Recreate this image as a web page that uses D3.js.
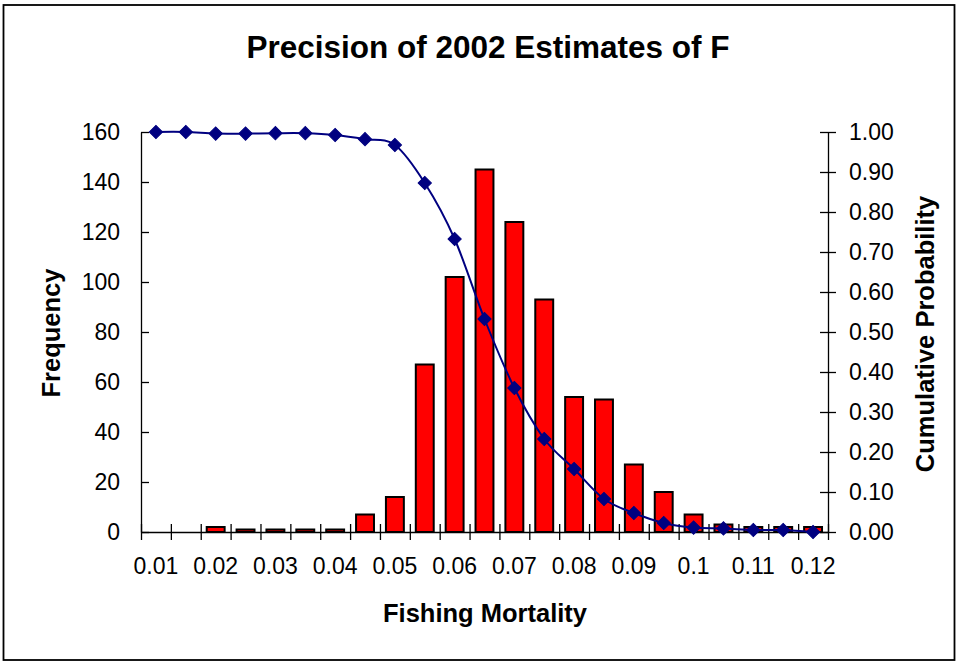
<!DOCTYPE html>
<html>
<head>
<meta charset="utf-8">
<script src="https://cdn.jsdelivr.net/npm/d3@7"></script>
<style>
  html, body { margin: 0; padding: 0; background: #fff; }
  svg { display: block; font-family: Arial, "Liberation Sans", sans-serif; }
</style>
</head>
<body>
<svg id="chart" width="958" height="662"></svg>
<script>
// ---- data ----
const categories = ["0.01","0.015","0.02","0.025","0.03","0.035","0.04","0.045","0.05","0.055","0.06","0.065",
                    "0.07","0.075","0.08","0.085","0.09","0.095","0.1","0.105","0.11","0.115","0.12"];
const frequency = [0, 0, 2, 1, 1, 1, 1, 7, 14, 67, 102, 145, 124, 93, 54, 53, 27, 16, 7, 3, 2, 2, 2];
const cumulativeProbability = [1.0, 1.0, 0.996, 0.996, 0.997, 0.997, 0.9925, 0.982, 0.9675, 0.8725, 0.7325, 0.5325,
                               0.36, 0.2325, 0.1575, 0.0825, 0.0475, 0.0225, 0.011, 0.009, 0.005, 0.005, 0.0];
const xTickLabels = ["0.01","0.02","0.03","0.04","0.05","0.06","0.07","0.08","0.09","0.1","0.11","0.12"];
const leftTicks = [0, 20, 40, 60, 80, 100, 120, 140, 160];
const rightTicks = [0, 0.1, 0.2, 0.3, 0.4, 0.5, 0.6, 0.7, 0.8, 0.9, 1.0];

const svg = d3.select("#chart");
const plot = { left: 141, right: 828, top: 132, bottom: 532 };

// outer border
svg.append("rect").attr("x", 3.5).attr("y", 5).attr("width", 951).attr("height", 655)
  .attr("fill", "#fff").attr("stroke", "#000").attr("stroke-width", 1.8);

// scales
const x = d3.scaleBand().domain(categories).range([plot.left, plot.right])
  .paddingInner(0.4).paddingOuter(0.2);
const xEdge = d3.scaleLinear().domain([0, categories.length]).range([plot.left, plot.right]);
const yL = d3.scaleLinear().domain([0, 160]).range([plot.bottom, plot.top]);
const yR = d3.scaleLinear().domain([0, 1]).range([plot.bottom, plot.top]);

const fontTick = "23px";

// bars
svg.append("g").selectAll("rect").data(categories.map((c, i) => ({ c, v: frequency[i] })).filter(d => d.v > 0))
  .join("rect")
  .attr("x", d => x(d.c))
  .attr("width", x.bandwidth())
  .attr("y", d => yL(d.v))
  .attr("height", d => yL(0) - yL(d.v))
  .attr("fill", "#ff0000")
  .attr("stroke", "#000")
  .attr("stroke-width", 2);

// left axis
const gL = svg.append("g").attr("transform", `translate(${plot.left},0)`)
  .call(d3.axisLeft(yL).tickValues(leftTicks).tickSize(8).tickPadding(13).tickSizeOuter(0));
gL.selectAll(".tick line").attr("x2", 8);
gL.selectAll("text").style("font-size", fontTick).attr("fill", "#000");

// right axis
const gR = svg.append("g").attr("transform", `translate(${plot.right},0)`)
  .call(d3.axisRight(yR).tickValues(rightTicks).tickFormat(d3.format(".2f")).tickSize(8).tickPadding(13).tickSizeOuter(0));
gR.selectAll(".tick line").attr("x1", -8);
gR.selectAll("text").style("font-size", fontTick).attr("fill", "#000");

// bottom axis: tick marks at category edges
const gB = svg.append("g").attr("transform", `translate(0,${plot.bottom})`)
  .call(d3.axisBottom(xEdge).tickValues(d3.range(categories.length + 1)).tickFormat("").tickSize(8).tickSizeOuter(0));
gB.selectAll(".tick line").attr("y1", -8);
// bottom labels
const gBL = svg.append("g").attr("transform", `translate(0,${plot.bottom})`)
  .call(d3.axisBottom(x).tickValues(xTickLabels).tickSize(0).tickPadding(26));
gBL.select(".domain").remove();
gBL.selectAll("text").style("font-size", fontTick).attr("fill", "#000");

svg.selectAll(".domain").attr("stroke", "#000").attr("stroke-width", 1.3);
svg.selectAll(".tick line").attr("stroke", "#000").attr("stroke-width", 1.3);

// cumulative line
const cx = c => x(c) + x.bandwidth() / 2;
const pts = categories.map((c, i) => [cx(c), yR(cumulativeProbability[i])]);
svg.append("path").datum(pts)
  .attr("d", d3.line().curve(d3.curveCardinal.tension(0)))
  .attr("fill", "none").attr("stroke", "#000080").attr("stroke-width", 2);

const diamond = d3.symbol().type(d3.symbolSquare).size(88);
svg.append("g").selectAll("path").data(pts).join("path")
  .attr("d", diamond)
  .attr("transform", d => `translate(${d[0]},${d[1]}) rotate(45)`)
  .attr("fill", "#000080").attr("stroke", "#000080").attr("stroke-width", 1);

// titles
svg.append("text").attr("x", 488).attr("y", 58).attr("text-anchor", "middle")
  .style("font-size", "31.5px").style("font-weight", "bold").text("Precision of 2002 Estimates of F");
svg.append("text").attr("x", 485).attr("y", 622).attr("text-anchor", "middle")
  .style("font-size", "25.5px").style("font-weight", "bold").text("Fishing Mortality");
svg.append("text").attr("transform", "translate(60,333) rotate(-90)").attr("text-anchor", "middle")
  .style("font-size", "25.5px").style("font-weight", "bold").text("Frequency");
svg.append("text").attr("transform", "translate(934,334) rotate(-90)").attr("text-anchor", "middle")
  .style("font-size", "25.5px").style("font-weight", "bold").text("Cumulative Probability");
</script>
</body>
</html>
